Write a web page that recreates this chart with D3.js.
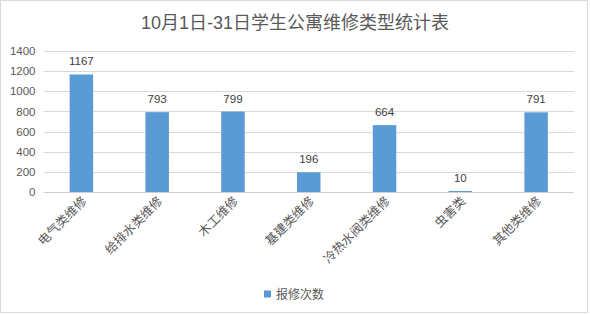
<!DOCTYPE html>
<html>
<head>
<meta charset="utf-8">
<script src="https://cdn.jsdelivr.net/npm/d3@7"></script>
<style>
  body { margin: 0; background: #fff; }
  svg { display: block; font-family: "Liberation Sans", "Noto Sans CJK SC", sans-serif; }
</style>
</head>
<body>
<svg id="chart" width="590" height="314"></svg>
<script>
const title = "10月1日-31日学生公寓维修类型统计表";
const categories = ["电气类维修", "给排水类维修", "木工维修", "基建类维修", "冷热水阀类维修", "虫害类", "其他类维修"];
const repairs = [1167, 793, 799, 196, 664, 10, 791];
const yTicks = [0, 200, 400, 600, 800, 1000, 1200, 1400];
const seriesName = "报修次数";

const width = 590;
const height = 314;
const margin = { left: 43.5, top: 51, right: 16, bottom: 122 };
const innerWidth = width - margin.left - margin.right;
const innerHeight = height - margin.top - margin.bottom;

const svg = d3.select("#chart");

// outer frame
svg.append("rect")
   .attr("x", 0.5).attr("y", 0.5)
   .attr("width", width - 3).attr("height", height - 2)
   .attr("fill", "#fff")
   .attr("stroke", "#d9d9d9");

svg.append("text")
   .attr("x", width / 2)
   .attr("y", 29)
   .attr("text-anchor", "middle")
   .attr("font-size", 18)
   .attr("fill", "#595959")
   .text(title);

const g = svg.append("g")
             .attr("transform", `translate(${margin.left}, ${margin.top})`);

const xScale = d3.scaleBand()
                 .domain(categories)
                 .range([0, innerWidth])
                 .paddingInner(0.69)
                 .paddingOuter(0.345);

const yScale = d3.scaleLinear()
                 .domain([0, 1400])
                 .range([innerHeight, 0]);

// gridlines
g.selectAll(".grid")
 .data(yTicks)
 .enter()
 .append("line")
   .attr("x1", 0)
   .attr("x2", innerWidth)
   .attr("y1", d => Math.round(yScale(d)) + 0.5)
   .attr("y2", d => Math.round(yScale(d)) + 0.5)
   .attr("stroke", d => d === 0 ? "#d0d0d0" : "#d9d9d9")
   .attr("stroke-width", 1);

const yAxis = d3.axisLeft(yScale)
                .tickValues(yTicks)
                .tickFormat(d3.format("d"))
                .tickSize(0)
                .tickPadding(8);

const yG = g.append("g").call(yAxis);
yG.select(".domain").remove();
yG.selectAll("text")
  .attr("font-size", 11.5)
  .attr("fill", "#595959")
  .attr("font-family", "Liberation Sans, sans-serif");

// bars
g.selectAll(".bar")
 .data(repairs)
 .enter()
 .append("rect")
   .attr("x", (d, i) => xScale(categories[i]))
   .attr("y", d => yScale(d))
   .attr("width", xScale.bandwidth())
   .attr("height", d => innerHeight - yScale(d))
   .attr("fill", "#5b9bd5");

// value labels
g.selectAll(".value")
 .data(repairs)
 .enter()
 .append("text")
   .attr("x", (d, i) => xScale(categories[i]) + xScale.bandwidth() / 2)
   .attr("y", d => yScale(d) - 9)
   .attr("text-anchor", "middle")
   .attr("font-size", 11.5)
   .attr("fill", "#404040")
   .text(d => d);

// rotated category labels
const xAxis = d3.axisBottom(xScale).tickSize(0).tickPadding(0);
const xG = g.append("g")
            .attr("transform", `translate(0, ${innerHeight})`)
            .call(xAxis);
xG.select(".domain").remove();
xG.selectAll("text")
  .attr("font-family", "Noto Sans CJK SC, sans-serif")
  .attr("font-size", 12.5)
  .attr("fill", "#595959")
  .attr("text-anchor", "end")
  .attr("dy", null)
  .attr("y", 0)
  .attr("transform", "translate(6, 10) rotate(-45)");

// legend
const legend = svg.append("g")
                  .attr("transform", "translate(264, 294)");
legend.append("rect")
      .attr("x", 0).attr("y", -3.5)
      .attr("width", 7).attr("height", 7)
      .attr("fill", "#5b9bd5");
legend.append("text")
      .attr("x", 12)
      .attr("y", 4.5)
      .attr("font-family", "Noto Sans CJK SC, sans-serif")
      .attr("font-size", 12)
      .attr("fill", "#595959")
      .text(seriesName);
</script>
</body>
</html>
